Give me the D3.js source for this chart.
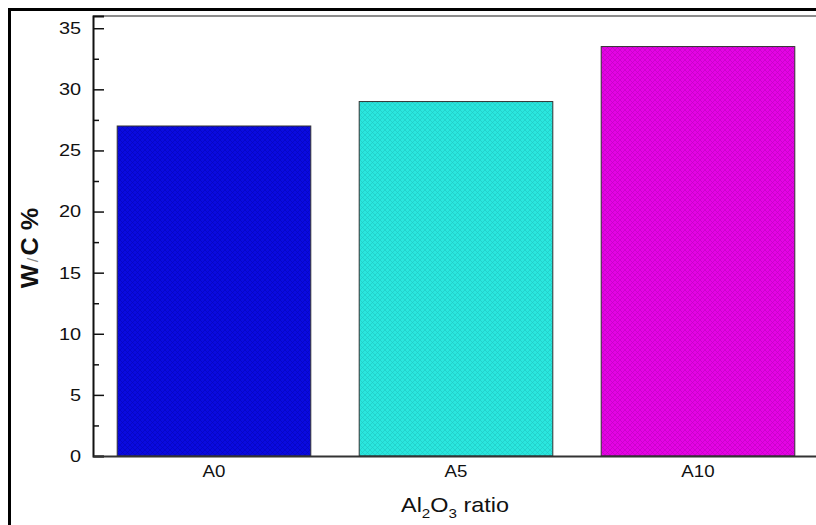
<!DOCTYPE html>
<meta charset="utf-8">
<style>
    body { margin: 0; background: #fff; }
    text { font-family: Arial, "Liberation Sans", sans-serif; fill: #111; }
</style>
<svg width="816" height="525"></svg>
<script src="https://d3js.org/d3.v7.min.js"></script>
<script>

    var categories = ["A0", "A5", "A10"];
    var values = [27, 29, 33.5];
    var fills = ["#0a0ae0", "#2ae6de", "#e404e4"];
    var hatch = ["#000090", "#16a8a4", "#9c009c"];
    var yTicks = [0, 5, 10, 15, 20, 25, 30, 35];

    var svg = d3.select("svg");

    var plotLeft = 93, plotTop = 16, plotBottom = 456, plotRight = 819;
    var stretch = 1.17; // the source image is a bit wide

    var x = d3.scaleBand()
        .domain(categories)
        .range([plotLeft, plotRight])
        .paddingInner(0.2)
        .paddingOuter(0.1);

    var y = d3.scaleLinear()
        .domain([0, 36])
        .range([plotBottom, plotTop]);

    // crosshatch fills
    var defs = svg.append("defs");
    categories.forEach(function(c, i) {
        var p = defs.append("pattern")
            .attr("id", "hatch" + i)
            .attr("width", 5)
            .attr("height", 5)
            .attr("patternUnits", "userSpaceOnUse");
        p.append("rect").attr("width", 5).attr("height", 5).attr("fill", fills[i]);
        p.append("path")
            .attr("d", "M0,0L5,5M5,0L0,5")
            .attr("stroke", hatch[i])
            .attr("stroke-width", 0.7)
            .attr("opacity", 0.45);
    });

    // outer frame of the figure
    svg.append("path")
        .attr("d", "M9.5,530V9.5H830")
        .attr("fill", "none")
        .attr("stroke", "#000")
        .attr("stroke-width", 3);

    // plot frame top
    svg.append("line")
        .attr("x1", plotLeft).attr("x2", 816)
        .attr("y1", plotTop).attr("y2", plotTop)
        .attr("stroke", "#666").attr("stroke-width", 1.5);

    svg.selectAll(".bar")
        .data(values)
        .enter().append("rect")
        .attr("class", "bar")
        .attr("x", function(d, i) { return x(categories[i]); })
        .attr("y", function(d) { return y(d); })
        .attr("width", x.bandwidth())
        .attr("height", function(d) { return y(0) - y(d); })
        .attr("fill", function(d, i) { return "url(#hatch" + i + ")"; })
        .attr("stroke", "#333")
        .attr("stroke-width", 1);

    // y axis, ticks pointing inward
    var yAxis = svg.append("g")
        .attr("transform", "translate(" + plotLeft + ",0)")
        .call(d3.axisRight(y).tickValues(yTicks).tickSize(11).tickFormat(d3.format("d")));
    yAxis.select(".domain").attr("stroke", "#111").attr("stroke-width", 2);
    yAxis.selectAll(".tick line").attr("stroke", "#111").attr("stroke-width", 1.5);
    yAxis.selectAll(".tick text")
        .attr("x", -12 / stretch)
        .attr("text-anchor", "end")
        .attr("transform", "scale(" + stretch + ",1)")
        .style("font-size", "17px");

    svg.append("g")
        .attr("transform", "translate(" + plotLeft + ",0)")
        .call(d3.axisRight(y).tickValues(d3.range(2.5, 36, 5)).tickSize(6).tickFormat(""))
        .call(function(g) {
            g.select(".domain").remove();
            g.selectAll("line").attr("stroke", "#111").attr("stroke-width", 1.5);
        });

    // x axis
    var xAxis = svg.append("g")
        .attr("transform", "translate(0," + plotBottom + ")")
        .call(d3.axisBottom(x).tickSize(0).tickPadding(10));
    xAxis.select(".domain").attr("stroke", "#333").attr("stroke-width", 2);
    xAxis.selectAll(".tick text")
        .attr("transform", "scale(" + stretch + ",1)")
        .style("font-size", "16px");

    // axis titles
    var xt = svg.append("text")
        .attr("transform", "translate(455,512) scale(" + stretch + ",1)")
        .attr("text-anchor", "middle")
        .style("font-size", "20px");
    xt.append("tspan").text("Al");
    xt.append("tspan").attr("dy", 6).style("font-size", "13px").text("2");
    xt.append("tspan").attr("dy", -6).text("O");
    xt.append("tspan").attr("dy", 6).style("font-size", "13px").text("3");
    xt.append("tspan").attr("dy", -6).text(" ratio");

    var yt = svg.append("text")
        .attr("transform", "translate(38,248) rotate(-90) scale(1.1,1)")
        .attr("text-anchor", "middle")
        .style("font-size", "23px")
        .style("font-weight", "bold");
    yt.append("tspan").text("W");
    yt.append("tspan").attr("dx", 2).style("font-weight", "normal").style("font-size", "15px").attr("fill", "#888").text("/");
    yt.append("tspan").attr("dx", 2).text("C %");

</script>
